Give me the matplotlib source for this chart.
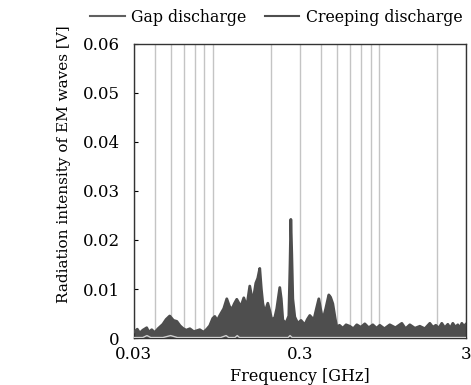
import matplotlib.pyplot as plt
import numpy as np

# frequency [GHz] and radiation intensity [V]
creep_f = [0.030, 0.0315, 0.0326, 0.034, 0.0359, 0.037, 0.0385, 0.0401, 0.042, 0.0449,
           0.047, 0.0494, 0.052, 0.0545, 0.057, 0.0592, 0.062, 0.0653, 0.069, 0.0749,
           0.079, 0.0826, 0.086, 0.0897, 0.0923, 0.0955, 0.0989, 0.1045, 0.109, 0.113,
           0.1168, 0.121, 0.1252, 0.1324, 0.138, 0.1438, 0.1499, 0.1563, 0.163, 0.1675,
           0.1722, 0.176, 0.1796, 0.1846, 0.1925, 0.198, 0.2035, 0.2121, 0.218, 0.2273,
           0.232, 0.237, 0.2471, 0.2576, 0.262, 0.265, 0.2685, 0.2723, 0.2799, 0.2918,
           0.305, 0.3216, 0.333, 0.3447, 0.3643, 0.378, 0.3906, 0.400, 0.4129, 0.430,
           0.4486, 0.46, 0.4743, 0.49, 0.5014, 0.52, 0.5448, 0.57, 0.6002, 0.63,
           0.6614, 0.70, 0.7391, 0.78, 0.8262, 0.87, 0.91, 0.97, 1.045, 1.13,
           1.235, 1.30, 1.38, 1.48, 1.585, 1.70, 1.821, 1.90, 1.979, 2.06,
           2.150, 2.24, 2.337, 2.42, 2.505, 2.60, 2.685, 2.76, 2.838, 2.92, 3.0]
creep_v = [0.0012, 0.0018, 0.0010, 0.0016, 0.0021, 0.0012, 0.0017, 0.0011, 0.0019, 0.0028,
           0.0038, 0.0045, 0.0036, 0.0034, 0.0025, 0.0020, 0.0016, 0.0019, 0.0013, 0.0017,
           0.0012, 0.0018, 0.0025, 0.0040, 0.0044, 0.0036, 0.0046, 0.0060, 0.0080, 0.0065,
           0.0058, 0.0070, 0.0079, 0.0064, 0.0082, 0.0064, 0.0106, 0.0073, 0.0112, 0.0122,
           0.0142, 0.0100, 0.0071, 0.0052, 0.0071, 0.0055, 0.0037, 0.0042, 0.0060, 0.0103,
           0.0080, 0.0037, 0.0030, 0.0045, 0.0150, 0.0242, 0.0170, 0.0080, 0.0043, 0.0030,
           0.0036, 0.0027, 0.0038, 0.0046, 0.0037, 0.0060, 0.0080, 0.0060, 0.0037, 0.0060,
           0.0088, 0.0083, 0.0070, 0.0040, 0.0022, 0.0026, 0.0020, 0.0027, 0.0024, 0.0019,
           0.0027, 0.0022, 0.0029, 0.0021, 0.0027, 0.0020, 0.0026, 0.0019, 0.0027, 0.0021,
           0.0030, 0.0019, 0.0027, 0.0020, 0.0024, 0.0019, 0.0030, 0.0022, 0.0026, 0.0020,
           0.0030, 0.0021, 0.0028, 0.0020, 0.0030, 0.0022, 0.0027, 0.0020, 0.0030, 0.0024, 0.0028]

gap_f = [0.030, 0.034, 0.036, 0.038, 0.045, 0.050, 0.055, 0.08, 0.10, 0.108, 0.112,
         0.122, 0.126, 0.130, 0.20, 0.255, 0.262, 0.270, 0.40, 1.0, 3.0]
gap_v = [0.0001, 0.0001, 0.0005, 0.0001, 0.0001, 0.0005, 0.0001, 0.0001, 0.0001, 0.0005, 0.0001,
         0.0001, 0.0005, 0.0001, 0.0001, 0.0001, 0.0005, 0.0001, 0.0001, 0.0001, 0.0001]

x_ticks = [0.03, 0.3, 3]
x_labels = ['0.03', '0.3', '3']
y_ticks = [0, 0.01, 0.02, 0.03, 0.04, 0.05, 0.06]
y_labels = ['0', '0.01', '0.02', '0.03', '0.04', '0.05', '0.06']

plt.rcParams['font.family'] = ['DejaVu Serif']
plt.rcParams['font.size'] = 11

fig = plt.figure(figsize=(4.71, 3.85), dpi=100)
ax = fig.add_axes([0.284, 0.122, 0.705, 0.764])

dark = '#4e4e4e'
light = '#d0d0d0'

ax.fill_between(creep_f, 0, creep_v, color=dark, linewidth=0, zorder=2)
l2, = ax.plot(creep_f, creep_v, color=dark, linewidth=2.0, zorder=3)
l1, = ax.plot(gap_f, gap_v, color=light, linewidth=1.0, zorder=4)

ax.set_xscale('log')
ax.set_xlim(0.03, 3)
ax.set_ylim(0, 0.06)
ax.set_xticks(x_ticks)
ax.set_xticklabels(x_labels)
ax.set_yticks(y_ticks)
ax.set_yticklabels(y_labels)
ax.xaxis.set_minor_formatter(plt.NullFormatter())

ax.grid(True, which='both', axis='x', color='#c4c4c4', linewidth=1.0, zorder=1)
ax.set_axisbelow(True)
ax.tick_params(axis='x', which='both', length=0, pad=6, labelsize=12)
ax.tick_params(axis='y', direction='in', length=3, pad=10, labelsize=12)

for s in ax.spines.values():
    s.set_color('#333333')
    s.set_linewidth(1.0)

ax.set_xlabel('Frequency [GHz]', labelpad=3, fontsize=11.5)
ax.set_ylabel('Radiation intensity of EM waves [V]', fontsize=11)
ax.yaxis.set_label_coords(-0.19, 0.59)

leg_gap, = ax.plot([], [], color='#606060', linewidth=1.5)
leg_creep, = ax.plot([], [], color=dark, linewidth=1.5)
fig.legend(handles=[leg_gap, leg_creep], labels=['Gap discharge', 'Creeping discharge'],
           loc='upper right', bbox_to_anchor=(1.0, 1.0), ncol=2, frameon=False,
           fontsize=11.3, handlelength=2.2, handletextpad=0.4, columnspacing=1.2,
           borderaxespad=0.15)

fig.savefig('out.png', dpi=100)
